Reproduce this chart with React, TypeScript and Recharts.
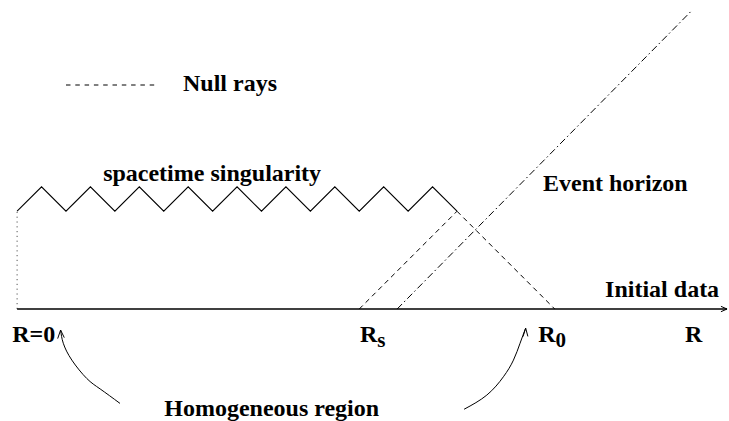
import React from 'react';
import { ComposedChart, Line, Scatter, XAxis, YAxis, Legend } from 'recharts';

// Data units: R along x, time along y (1 unit = one half-period of the singularity zigzag)
const X_DOMAIN: [number, number] = [-0.7, 29.13];
const Y_DOMAIN: [number, number] = [-4.58, 12.64];

const initialDataAxis = [
  { x: 0, y: 0 },
  { x: 29.05, y: 0 },
];
const axisArrowHead = [
  { x: 28.8, y: 0.11 },
  { x: 29.05, y: 0 },
  { x: 28.8, y: -0.11 },
];
const centreLine = [
  { x: 0, y: 0 },
  { x: 0, y: 4 },
];
const singularity = [
  { x: 0, y: 4 }, { x: 1, y: 5 }, { x: 2, y: 4 }, { x: 3, y: 5 }, { x: 4, y: 4 },
  { x: 5, y: 5 }, { x: 6, y: 4 }, { x: 7, y: 5 }, { x: 8, y: 4 }, { x: 9, y: 5 },
  { x: 10, y: 4 }, { x: 11, y: 5 }, { x: 12, y: 4 }, { x: 13, y: 5 }, { x: 14, y: 4 },
  { x: 15, y: 5 }, { x: 16, y: 4 }, { x: 17, y: 5 }, { x: 18, y: 4 },
];
const outgoingRay = [
  { x: 14, y: 0 },
  { x: 18, y: 4 },
];
const ingoingRay = [
  { x: 18, y: 4 },
  { x: 22, y: 0 },
];
const eventHorizon = [
  { x: 15.55, y: 0 },
  { x: 27.6, y: 12.2 },
];
const leftArrow = [
  { x: 4.21, y: -3.86 },
  { x: 3.4, y: -3.27 },
  { x: 2.85, y: -2.84 },
  { x: 2.24, y: -2.09 },
  { x: 1.89, y: -1.4 },
  { x: 1.78, y: -0.86 },
];
const rightArrow = [
  { x: 18.29, y: -4.1 },
  { x: 19.22, y: -3.52 },
  { x: 19.9, y: -2.77 },
  { x: 20.31, y: -2.09 },
  { x: 20.58, y: -1.4 },
  { x: 20.81, y: -0.78 },
];

const tickLabels = ['R', 'R', 'R', 'R'];
const tickSubs = ['=0', 's', '0', ''];
const tickX = [-0.2, 14.03, 21.32, 27.33];
const tickY = [-1.35, -1.35, -1.35, -1.35];

const annotationTexts = ['spacetime singularity', 'Event horizon', 'Initial data', 'Homogeneous region'];
const annotationX = [3.52, 21.52, 24.06, 6.02];
const annotationY = [5.24, 4.83, 0.49, -4.38];

const tickData = tickLabels.map((t, i) => ({ x: tickX[i], y: tickY[i], text: t, sub: tickSubs[i] }));
const annotationData = annotationTexts.map((t, i) => ({ x: annotationX[i], y: annotationY[i], text: t, sub: '' }));

const FONT = '"Liberation Serif", "Times New Roman", Times, serif';

const renderText = (props: any) => {
  const { cx, cy, payload } = props;
  const sub: string = payload.sub || '';
  const isSubscript = sub === 's' || sub === '0';
  return (
    <text x={cx} y={cy} fontFamily={FONT} fontWeight="bold" fontSize={24} fill="#000">
      {payload.text}
      {sub && isSubscript ? (
        <tspan dy={5} fontSize={21}>{sub}</tspan>
      ) : (
        sub
      )}
    </text>
  );
};

const legendContent = () => (
  <svg width={240} height={32} style={{ display: 'block' }}>
    <line x1={6} y1={20} x2={98} y2={20} stroke="#000" strokeWidth={1} strokeDasharray="4.5 4.8" />
    <text x={123} y={26} fontFamily={FONT} fontWeight="bold" fontSize={24} fill="#000">
      Null rays
    </text>
  </svg>
);

const lineCommon = {
  dataKey: 'y',
  type: 'linear' as const,
  dot: false,
  activeDot: false,
  isAnimationActive: false,
  legendType: 'none' as const,
  stroke: '#000',
};

export default function App() {
  return (
    <div style={{ position: 'absolute', left: 0, top: 0, background: '#fff' }}>
      <ComposedChart width={729} height={421} margin={{ top: 0, right: 0, bottom: 0, left: 0 }}>
        <XAxis dataKey="x" type="number" domain={X_DOMAIN} allowDataOverflow hide />
        <YAxis dataKey="y" type="number" domain={Y_DOMAIN} allowDataOverflow hide />
        <Legend
          verticalAlign="middle"
          align="center"
          layout="horizontal"
          wrapperStyle={{ left: 60, top: 65, width: 240, height: 32 }}
          content={legendContent}
        />
        <Line {...lineCommon} data={centreLine} strokeWidth={1} stroke="#555" strokeDasharray="1.2 3.6" />
        <Line {...lineCommon} data={initialDataAxis} strokeWidth={1.6} />
        <Line {...lineCommon} data={axisArrowHead} strokeWidth={1} />
        <Line {...lineCommon} data={singularity} strokeWidth={1.1} />
        <Line {...lineCommon} data={outgoingRay} strokeWidth={1} strokeDasharray="5 4" />
        <Line {...lineCommon} data={ingoingRay} strokeWidth={1} strokeDasharray="5 4" />
        <Line {...lineCommon} data={eventHorizon} strokeWidth={1} strokeDasharray="7 3 1.5 3" />
        <Line {...lineCommon} data={leftArrow} type="natural" strokeWidth={1} />
        <Line {...lineCommon} data={rightArrow} type="natural" strokeWidth={1} />
        <Line {...lineCommon} data={[leftArrow[5], { x: 1.66, y: -1.21 }]} strokeWidth={1} />
        <Line {...lineCommon} data={[leftArrow[5], { x: 1.93, y: -1.17 }]} strokeWidth={1} />
        <Line {...lineCommon} data={[rightArrow[5], { x: 20.7, y: -1.13 }]} strokeWidth={1} />
        <Line {...lineCommon} data={[rightArrow[5], { x: 20.9, y: -1.12 }]} strokeWidth={1} />
        <Scatter data={tickData} shape={renderText} isAnimationActive={false} legendType="none" />
        <Scatter data={annotationData} shape={renderText} isAnimationActive={false} legendType="none" />
      </ComposedChart>
    </div>
  );
}
